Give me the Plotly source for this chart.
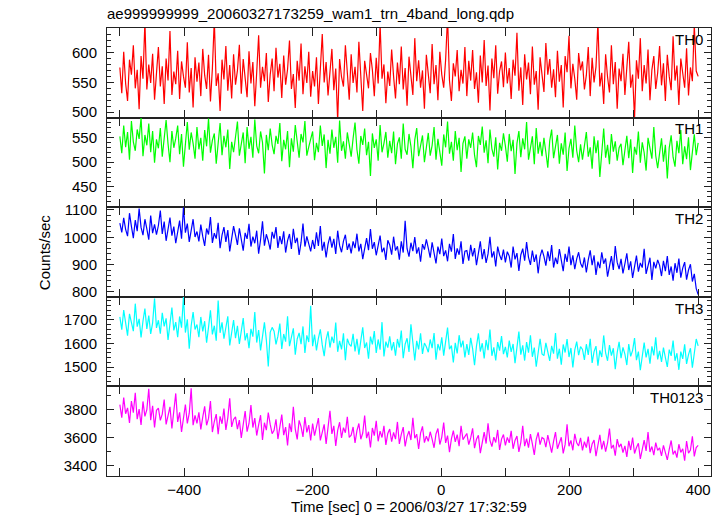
import numpy as np
import plotly.graph_objects as go
from plotly.subplots import make_subplots

# Time bins (sec), 3 s step from -500 to 400
time_start, time_end, time_step = -500, 400, 3
time = np.arange(time_start, time_end + 1, time_step)

th0 = [
    575, 532, 601, 548, 519, 588, 563, 612, 540, 571, 505, 594, 556, 652, 538, 580, 549, 598, 521, 566,
    609, 543, 577, 514, 590, 553, 636, 529, 568, 547, 603, 522, 585, 560, 541, 617, 533, 574, 508, 592,
    551, 583, 527, 606, 562, 539, 596, 518, 573, 655, 544, 565, 502, 588, 555, 611, 536, 579, 523, 597,
    546, 570, 613, 531, 589, 557, 525, 602, 548, 584, 510, 567, 629, 541, 576, 552, 599, 517, 563, 590,
    535, 608, 558, 581, 524, 595, 546, 572, 620, 539, 564, 507, 586, 553, 615, 530, 577, 549, 601, 526,
    569, 543, 592, 514, 578, 631, 550, 584, 528, 561, 606, 537, 573, 486, 589, 559, 543, 612, 566, 521,
    597, 549, 576, 533, 618, 554, 502, 586, 562, 540, 599, 571, 527, 591, 548, 648, 556, 580, 515, 568,
    544, 605, 560, 523, 583, 547, 610, 538, 574, 511, 593, 566, 529, 624, 552, 587, 541, 570, 506, 596,
    558, 532, 614, 547, 579, 520, 601, 563, 541, 588, 660, 553, 519, 582, 560, 604, 535, 571, 548, 609,
    527, 586, 553, 604, 539, 567, 516, 595, 550, 621, 544, 578, 503, 590, 557, 612, 531, 569, 585, 542,
    600, 548, 574, 522, 588, 561, 633, 536, 575, 512, 597, 555, 583, 530, 610, 546, 569, 504, 592, 557,
    534, 616, 563, 589, 541, 572, 525, 603, 551, 579, 508, 594, 567, 628, 540, 581, 556, 521, 599, 570,
    585, 538, 562, 609, 527, 591, 550, 576, 651, 543, 566, 514, 597, 559, 533, 612, 547, 584, 506, 573,
    552, 598, 529, 575, 618, 541, 563, 489, 587, 556, 624, 535, 579, 548, 605, 520, 571, 594, 539, 566,
    611, 545, 582, 519, 596, 560, 537, 627, 553, 578, 512, 590, 564, 541, 607, 528, 575, 552, 646, 569,
    560,
]
th1 = [
    552, 518, 574, 530, 561, 505, 583, 541, 523, 566, 547, 590, 512, 555, 534, 578, 520, 563, 499, 546,
    528, 569, 511, 552, 585, 537, 500, 563, 529, 548, 574, 516, 557, 491, 543, 581, 525, 560, 538, 507,
    571, 526, 549, 503, 565, 532, 588, 519, 544, 558, 497, 536, 579, 514, 553, 530, 566, 486, 541, 520,
    547, 582, 513, 539, 560, 498, 571, 527, 551, 509, 586, 533, 518, 562, 540, 477, 555, 524, 568, 535,
    516, 553, 537, 579, 502, 545, 526, 563, 490, 548, 521, 575, 534, 509, 557, 540, 583, 513, 531, 550,
    562, 504, 539, 520, 574, 533, 556, 488, 545, 517, 566, 529, 551, 499, 584, 523, 542, 507, 560, 536,
    511, 548, 580, 525, 497, 553, 535, 568, 514, 541, 472, 558, 529, 546, 503, 575, 520, 538, 561, 509,
    543, 518, 562, 496, 537, 550, 507, 578, 526, 515, 557, 532, 488, 545, 569, 512, 536, 554, 500, 528,
    559, 513, 534, 571, 505, 547, 522, 493, 556, 530, 582, 517, 541, 503, 563, 524, 549, 480, 538, 552,
    507, 546, 529, 560, 514, 490, 553, 535, 572, 519, 544, 498, 566, 527, 511, 550, 485, 539, 523, 558,
    533, 501, 557, 522, 545, 476, 538, 563, 510, 548, 526, 581, 505, 534, 552, 496, 569, 517, 541, 512,
    549, 520, 489, 543, 566, 508, 531, 555, 497, 538, 515, 560, 482, 528, 547, 509, 574, 523, 500, 536,
    505, 539, 561, 511, 530, 487, 552, 518, 544, 470, 527, 568, 509, 535, 496, 557, 521, 542, 503, 529,
    537, 494, 524, 553, 508, 546, 478, 531, 515, 562, 499, 540, 519, 483, 549, 526, 507, 571, 513, 488,
    522, 548, 501, 535, 467, 529, 554, 510, 491, 543, 518, 565, 496, 532, 506, 550, 484, 527, 556, 514,
    539,
]
th2 = [
    1052, 1018, 1071, 1029, 1004, 1088, 1040, 997, 1063, 1022, 1105, 1036, 1008, 1066, 1031, 991, 1079, 1015, 1047, 1010,
    1043, 1098, 1012, 1057, 987, 1030, 1072, 1006, 1039, 978, 1024, 1061, 995, 1110, 1017, 1050, 983, 1028, 1066, 1001,
    1021, 985, 1046, 1003, 968, 1032, 1010, 1074, 979, 1015, 995, 1053, 960, 1008, 1037, 983, 1026, 948, 999, 1041,
    1008, 972, 1033, 985, 951, 1016, 994, 1049, 966, 1002, 978, 1024, 940, 991, 1058, 969, 1011, 987, 955, 1020,
    995, 1037, 961, 1004, 975, 1022, 944, 988, 1012, 957, 1031, 979, 998, 935, 981, 1050, 966, 1003, 972, 948,
    990, 957, 1018, 968, 1041, 951, 983, 926, 975, 1003, 962, 994, 939, 1024, 970, 945, 986, 1009, 954, 977,
    941, 985, 960, 1013, 948, 976, 920, 966, 997, 953, 1030, 958, 982, 934, 971, 1006, 945, 962, 917, 989,
    972, 936, 1002, 951, 967, 918, 985, 944, 1060, 958, 929, 980, 949, 1001, 940, 963, 911, 975, 955, 992,
    960, 925, 981, 943, 904, 966, 938, 995, 931, 952, 912, 976, 947, 1012, 921, 959, 936, 985, 902, 949,
    951, 914, 972, 930, 960, 898, 943, 985, 920, 957, 906, 939, 1002, 926, 948, 893, 966, 935, 917, 955,
    908, 947, 931, 889, 966, 919, 942, 877, 935, 958, 914, 982, 926, 899, 951, 910, 937, 868, 929, 955,
    930, 896, 948, 913, 971, 889, 925, 902, 957, 918, 876, 939, 910, 966, 898, 934, 883, 921, 945, 905,
    889, 926, 871, 917, 952, 898, 934, 862, 911, 887, 945, 903, 922, 856, 896, 931, 880, 968, 908, 883,
    921, 868, 903, 941, 880, 912, 851, 897, 933, 874, 906, 889, 958, 866, 899, 925, 844, 910, 886, 917,
    897, 858, 914, 876, 931, 862, 893, 841, 905, 870, 922, 852, 887, 909, 845, 880, 901, 838, 866, 812,
    790,
]
th3 = [
    1712, 1658, 1741, 1679, 1633, 1725, 1690, 1652, 1768, 1671, 1704, 1626, 1695, 1747, 1661, 1718, 1640, 1687, 1790, 1666,
    1698, 1641, 1729, 1672, 1706, 1615, 1683, 1752, 1655, 1690, 1627, 1714, 1667, 1798, 1646, 1702, 1578, 1675, 1733, 1659,
    1680, 1627, 1712, 1651, 1694, 1603, 1668, 1740, 1638, 1675, 1612, 1781, 1645, 1689, 1620, 1663, 1715, 1592, 1657, 1699,
    1622, 1675, 1598, 1651, 1707, 1613, 1644, 1580, 1662, 1629, 1733, 1604, 1657, 1571, 1638, 1689, 1615, 1503, 1647, 1668,
    1652, 1596, 1631, 1684, 1577, 1640, 1608, 1715, 1589, 1626, 1664, 1553, 1619, 1645, 1597, 1672, 1560, 1634, 1606, 1759,
    1589, 1638, 1571, 1622, 1660, 1594, 1547, 1616, 1651, 1583, 1629, 1602, 1688, 1565, 1611, 1575, 1643, 1530, 1620, 1597,
    1588, 1641, 1567, 1620, 1553, 1612, 1668, 1581, 1604, 1536, 1629, 1596, 1652, 1560, 1617, 1574, 1690, 1545, 1608, 1583,
    1630, 1571, 1606, 1549, 1619, 1583, 1655, 1538, 1597, 1622, 1564, 1681, 1590, 1528, 1611, 1575, 1643, 1556, 1602, 1586,
    1563, 1617, 1580, 1644, 1532, 1598, 1571, 1626, 1549, 1609, 1667, 1576, 1591, 1520, 1603, 1558, 1635, 1584, 1612, 1541,
    1597, 1552, 1624, 1578, 1508, 1589, 1643, 1566, 1601, 1537, 1615, 1572, 1659, 1548, 1584, 1529, 1606, 1570, 1631, 1555,
    1586, 1541, 1612, 1565, 1598, 1517, 1579, 1650, 1553, 1592, 1528, 1606, 1561, 1635, 1544, 1583, 1502, 1571, 1620, 1556,
    1549, 1603, 1568, 1527, 1590, 1557, 1644, 1536, 1578, 1511, 1596, 1562, 1619, 1543, 1581, 1499, 1573, 1608, 1551, 1587,
    1575, 1531, 1597, 1552, 1620, 1518, 1566, 1589, 1506, 1571, 1543, 1634, 1560, 1527, 1593, 1549, 1580, 1492, 1562, 1607,
    1538, 1584, 1555, 1509, 1598, 1546, 1571, 1623, 1530, 1566, 1487, 1559, 1604, 1541, 1577, 1515, 1588, 1550, 1626, 1533,
    1569, 1522, 1583, 1540, 1501, 1574, 1548, 1612, 1527, 1559, 1489, 1566, 1535, 1597, 1514, 1553, 1580, 1498, 1561, 1619,
    1590,
]
th0123 = [
    3835, 3742, 3886, 3770, 3812, 3705, 3861, 3778, 3920, 3731, 3803, 3690, 3858, 3751, 3799, 3948, 3724, 3826, 3672, 3795,
    3810, 3723, 3768, 3872, 3694, 3751, 3820, 3665, 3789, 3915, 3712, 3780, 3640, 3743, 3836, 3702, 3774, 3951, 3689, 3758,
    3702, 3781, 3659, 3746, 3823, 3688, 3737, 3861, 3640, 3715, 3768, 3624, 3752, 3699, 3808, 3655, 3741, 3880, 3677, 3730,
    3748, 3661, 3725, 3598, 3712, 3790, 3643, 3701, 3832, 3672, 3739, 3615, 3691, 3760, 3584, 3706, 3653, 3779, 3694, 3628,
    3652, 3731, 3590, 3697, 3764, 3618, 3675, 3545, 3702, 3640, 3819, 3661, 3588, 3723, 3679, 3606, 3746, 3637, 3689, 3580,
    3701, 3615, 3672, 3739, 3580, 3648, 3695, 3556, 3663, 3792, 3627, 3684, 3541, 3652, 3710, 3598, 3671, 3635, 3748, 3602,
    3618, 3676, 3563, 3650, 3701, 3589, 3633, 3757, 3597, 3642, 3530, 3669, 3615, 3720, 3574, 3647, 3601, 3684, 3549, 3630,
    3661, 3572, 3637, 3590, 3712, 3555, 3624, 3675, 3538, 3609, 3647, 3583, 3741, 3596, 3625, 3519, 3633, 3680, 3565, 3610,
    3574, 3642, 3589, 3528, 3626, 3665, 3551, 3604, 3708, 3563, 3615, 3497, 3591, 3650, 3570, 3622, 3540, 3685, 3586, 3612,
    3630, 3551, 3598, 3667, 3525, 3589, 3617, 3490, 3573, 3640, 3558, 3702, 3581, 3536, 3603, 3566, 3655, 3512, 3590, 3622,
    3545, 3602, 3563, 3648, 3521, 3580, 3612, 3498, 3567, 3684, 3540, 3593, 3529, 3625, 3556, 3477, 3588, 3637, 3550, 3601,
    3591, 3532, 3618, 3559, 3493, 3574, 3640, 3521, 3566, 3603, 3488, 3552, 3695, 3539, 3580, 3510, 3627, 3563, 3541, 3598,
    3510, 3571, 3529, 3608, 3490, 3555, 3583, 3468, 3546, 3620, 3517, 3577, 3501, 3562, 3664, 3523, 3548, 3472, 3590, 3533,
    3556, 3494, 3541, 3463, 3578, 3512, 3601, 3487, 3530, 3560, 3449, 3519, 3582, 3505, 3640, 3498, 3537, 3476, 3565, 3510,
    3528, 3470, 3545, 3493, 3442, 3516, 3580, 3481, 3507, 3458, 3553, 3495, 3521, 3436, 3576, 3489, 3512, 3610, 3467, 3530,
    3545,
]

panel_names = ["TH0", "TH1", "TH2", "TH3", "TH0123"]
panel_series = [th0, th1, th2, th3, th0123]
panel_colors = ["#ff0000", "#00ff00", "#0000ff", "#00ffff", "#ff00ff"]
panel_ranges = [[491, 641], [409, 590], [782, 1110], [1419, 1797], [3327, 3965]]
panel_major = [50, 50, 100, 100, 200]
panel_minor = [10, 10, 20, 20, 100]

x_tickvals = [-500, -400, -300, -200, -100, 0, 100, 200, 300, 400]
x_ticktext = ["", "\u2212400", "", "\u2212200", "", "0", "", "200", "", "400"]

FONT = "Liberation Sans, Arial, Helvetica, sans-serif"
AX = "#222222"

fig = make_subplots(rows=5, cols=1, shared_xaxes=True, vertical_spacing=0)

for i, (name, ys, col) in enumerate(zip(panel_names, panel_series, panel_colors)):
    r = i + 1
    fig.add_trace(go.Scatter(x=time, y=ys, mode="lines", line=dict(color=col, width=1.2),
                             name=name, showlegend=False), row=r, col=1)
    fig.update_yaxes(range=panel_ranges[i], dtick=panel_major[i], tick0=0,
                     ticks="inside", ticklen=7, tickwidth=1, tickcolor=AX,
                     minor=dict(dtick=panel_minor[i], tick0=0, ticks="inside", ticklen=4,
                                tickcolor=AX, showgrid=False),
                     showline=True, linecolor=AX, linewidth=1, mirror="allticks",
                     showgrid=False, zeroline=False, automargin=False,
                     ticklabelstandoff=6,
                     tickfont=dict(family=FONT, size=15, color="black"),
                     row=r, col=1)
    fig.update_xaxes(range=[-520, 420], tickvals=x_tickvals, ticktext=x_ticktext,
                     ticks="inside", ticklen=8, tickwidth=1, tickcolor=AX,
                     showline=True, linecolor=AX, linewidth=1, mirror="allticks",
                     showgrid=False, zeroline=False, automargin=False,
                     showticklabels=(r == 5),
                     tickfont=dict(family=FONT, size=15, color="black"),
                     row=r, col=1)
    fig.add_annotation(text=name, xref="x domain", yref="y domain" if r == 1 else f"y{r} domain",
                       x=0.99, y=0.99, xanchor="right", yanchor="top", showarrow=False,
                       font=dict(family=FONT, size=15, color="black"), row=r, col=1)

fig.update_xaxes(title=dict(text="Time [sec] 0 = 2006/03/27 17:32:59",
                            font=dict(family=FONT, size=15, color="black"), standoff=2),
                 row=5, col=1)

fig.add_annotation(text="Counts/sec", xref="paper", yref="paper", x=-0.104, y=0.5,
                   textangle=-90, showarrow=False, xanchor="center", yanchor="middle",
                   font=dict(family=FONT, size=15, color="black"))

fig.update_layout(
    width=724, height=516,
    margin=dict(l=107, r=13, t=28, b=40),
    paper_bgcolor="white", plot_bgcolor="white",
    title=dict(text="ae999999999_20060327173259_wam1_trn_4band_long.qdp",
               x=107 / 724, xanchor="left", y=1 - 14 / 516, yanchor="middle",
               font=dict(family=FONT, size=15, color="black")),
)

fig.write_html("out.html", config={"displayModeBar": False},
               post_script="document.body.style.margin='0';document.body.style.padding='0';")
